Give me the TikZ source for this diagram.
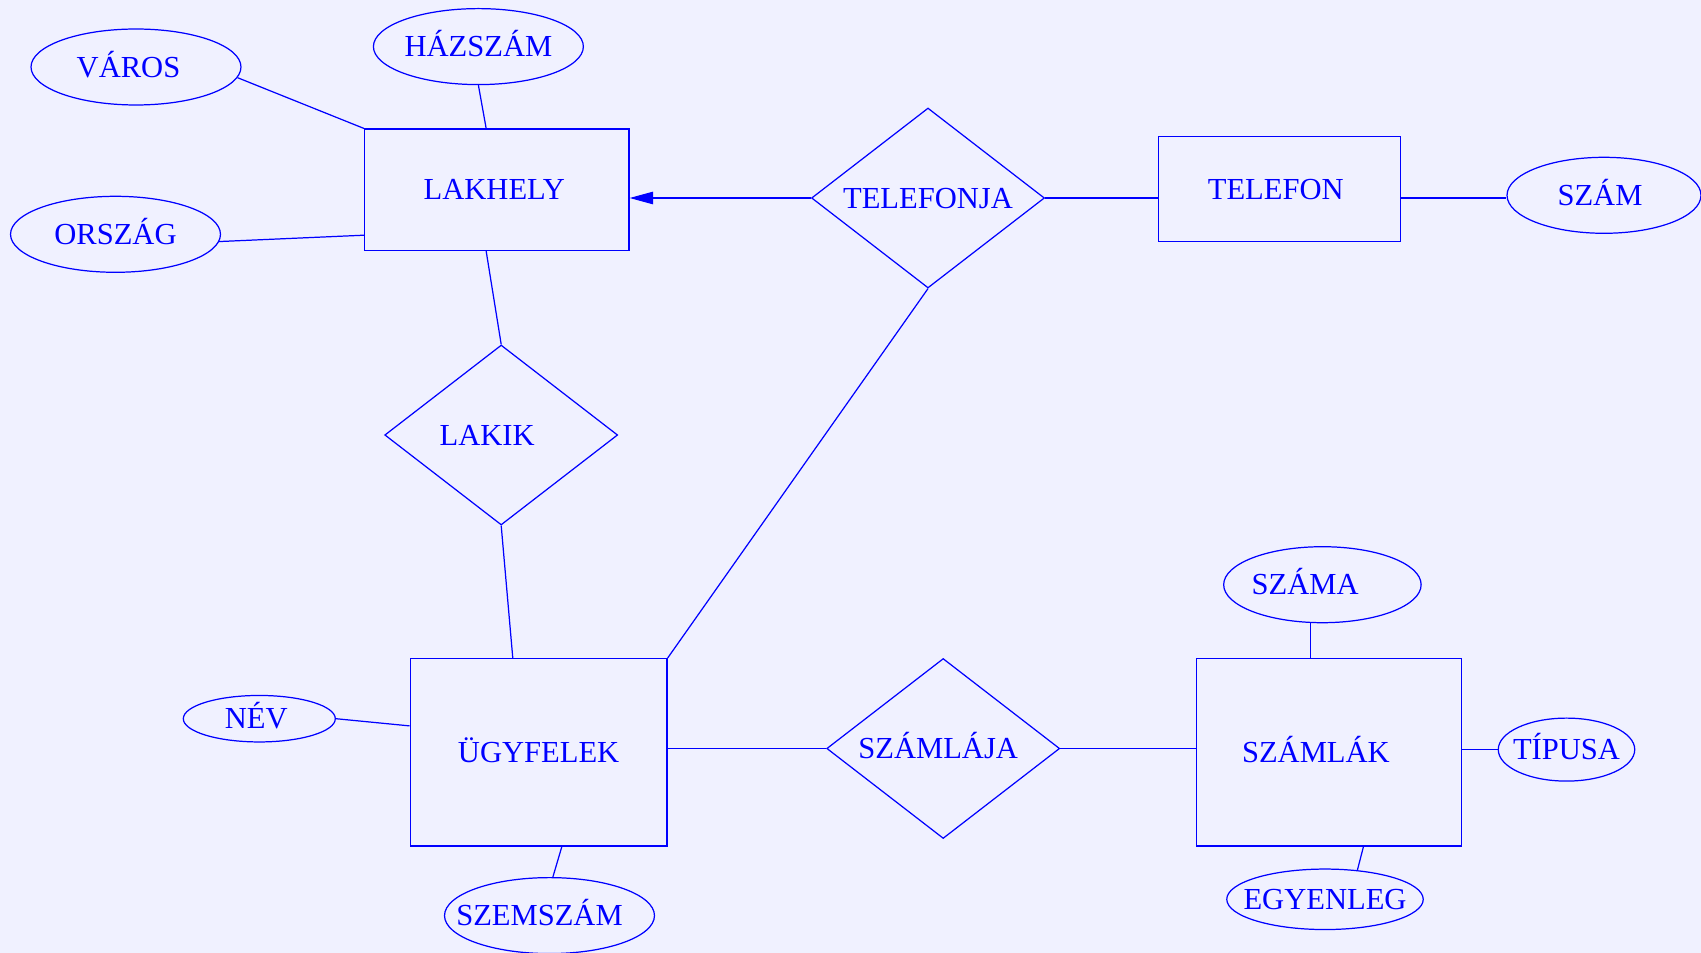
\documentclass[tikz,border=0pt]{standalone}
\usepackage{fontspec}
\setmainfont{Liberation Serif}
\usetikzlibrary{shapes.geometric,arrows.meta,calc}
\definecolor{paper}{RGB}{240,241,255}
\begin{document}
\begin{tikzpicture}[x=0.02cm,y=-0.02cm,line width=0.7pt,draw=blue,
  every node/.style={text=blue,font=\fontsize{17.4}{20}\selectfont,text height=11.5pt,text depth=0pt,inner sep=0pt},
  entity/.style={rectangle,draw=blue},
  relation/.style={diamond,draw=blue,minimum width=4.66cm,minimum height=3.6cm,aspect=1.29},
  attrib/.style={ellipse,draw=blue,inner xsep=-0.7cm,minimum width=4.2cm,minimum height=1.52cm}]
\fill[paper] (0,0) rectangle (1701,953);
\useasboundingbox (0,0) rectangle (1701,953);
% entities
\node[entity,minimum width=5.29cm,minimum height=2.43cm] (lakhely) at (496.8,189.8) {\hspace*{-0.1cm}LAKHELY};
\node[entity,minimum width=4.84cm,minimum height=2.1cm] (telefon) at (1279.5,189.3) {\hspace*{-0.15cm}TELEFON};
\node[entity,minimum width=5.14cm,minimum height=3.75cm] (ugyfelek) at (538.6,752.3) {ÜGYFELEK};
\node[entity,minimum width=5.29cm,minimum height=3.75cm] (szamlak) at (1328.9,752.3) {\hspace*{-0.52cm}SZÁMLÁK};
% relations
\node[relation] (telefonja) at (928,198) {TELEFONJA};
\node[relation] (lakik) at (501.2,435) {\hspace*{-0.56cm}LAKIK};
\node[relation] (szamlaja) at (943.2,748.5) {\hspace*{-0.2cm}SZÁMLÁJA};
% attributes
\node[attrib] (varos) at (136,67) {\hspace*{-0.3cm}VÁROS};
\node[attrib] (hazszam) at (478.4,46.6) {HÁZSZÁM};
\node[attrib] (orszag) at (115.5,234.3) {ORSZÁG};
\node[attrib,minimum width=3.88cm] (szam) at (1604,195.3) {\hspace*{-0.16cm}SZÁM};
\node[attrib,minimum width=3.04cm,minimum height=0.93cm] (nev) at (259.3,718.7) {\hspace*{-0.12cm}NÉV};
\node[attrib] (szemszam) at (549.5,915.6) {\hspace*{-0.4cm}SZEMSZÁM};
\node[attrib,minimum width=3.95cm] (szama) at (1322.4,584.7) {\hspace*{-0.69cm}SZÁMA};
\node[attrib,minimum width=2.73cm,minimum height=1.26cm] (tipusa) at (1566.5,749.6) {TÍPUSA};
\node[attrib,minimum width=3.93cm,minimum height=1.21cm] (egyenleg) at (1325,899.3) {EGYENLEG};
% connectors
\draw (varos.-6) -- (lakhely.north west);
\draw (hazszam.south) -- ($(lakhely.north west)!0.46!(lakhely.north east)$);
\draw (orszag.-4) -- ($(lakhely.north west)!0.87!(lakhely.south west)$);
\draw[-{Triangle[length=0.47cm,width=0.25cm]}] (telefonja.west) -- (telefonja.west -| lakhely.east);
\draw (telefonja.east) -- (telefonja.east -| telefon.west);
\draw (telefonja.east -| telefon.east) -- (telefonja.east -| szam.west);
\draw ($(lakhely.south west)!0.46!(lakhely.south east)$) -- (lakik.north);
\draw (lakik.south) -- ($(ugyfelek.north west)!0.4!(ugyfelek.north east)$);
\draw (telefonja.south) -- (ugyfelek.north east);
\draw (nev.east) -- ($(ugyfelek.north west)!0.36!(ugyfelek.south west)$);
\draw (szemszam.85) -- ($(ugyfelek.south west)!0.59!(ugyfelek.south east)$);
\draw (szamlaja.west -| ugyfelek.east) -- (szamlaja.west);
\draw (szamlaja.east) -- (szamlaja.east -| szamlak.west);
\coordinate (szamatop) at ($(szamlak.north west)!0.43!(szamlak.north east)$);
\draw (szamatop |- szama.south) -- (szamatop);
\draw (tipusa.west -| szamlak.east) -- (tipusa.west);
\draw ($(szamlak.south west)!0.63!(szamlak.south east)$) -- (egyenleg.42);
\end{tikzpicture}
\end{document}
